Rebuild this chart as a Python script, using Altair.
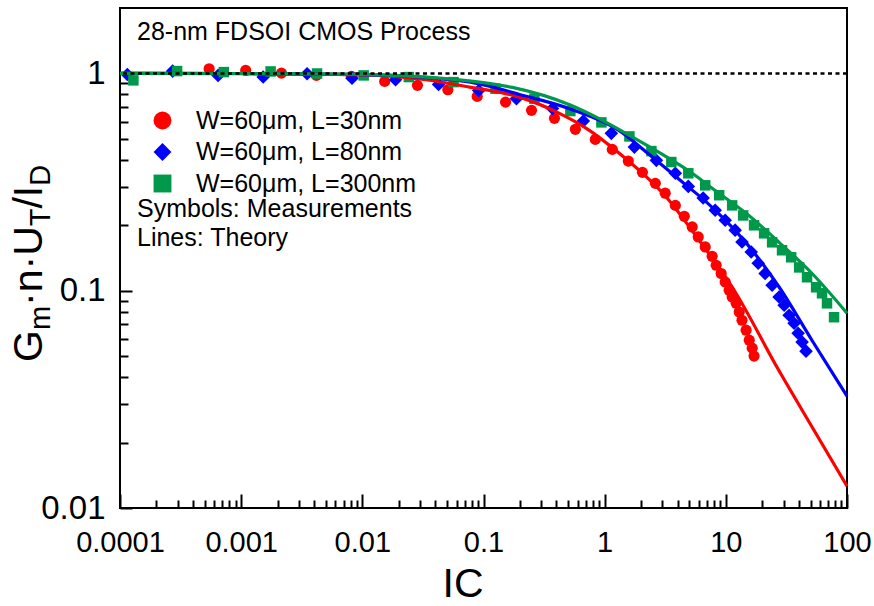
import altair as alt
import pandas as pd

FONT = "Liberation Sans, Arial, Helvetica, sans-serif"

SERIES = ["W=60μm, L=30nm", "W=60μm, L=80nm", "W=60μm, L=300nm"]
COLORS = ["#FF0000", "#0000FF", "#00984A"]
SHAPES = ["circle", "diamond", "square"]
SIZES = [125, 185, 110]

# ---------------- measurements (symbols) ----------------
meas_ic_30 = [5.44e-4, 1.09e-3, 2.15e-3, 4.18e-3, 8.13e-3, 0.0153, 0.0285, 0.0508, 0.0887,
              0.152, 0.249, 0.385, 0.573, 0.837, 1.156, 1.567, 2.05, 2.62, 3.16, 3.83, 4.54,
              5.28, 5.92, 6.76, 7.71, 8.32, 9.16, 9.88, 10.66, 11.28, 12.17, 12.9, 13.6, 14.7,
              15.6, 16.5, 17.1]
meas_g_30 = [1.051, 1.032, 1.003, 0.979, 0.969, 0.919, 0.881, 0.841, 0.784,
             0.738, 0.676, 0.621, 0.553, 0.497, 0.447, 0.395, 0.3505, 0.312, 0.281, 0.247, 0.220,
             0.1965, 0.1768, 0.159, 0.144, 0.131, 0.120, 0.1097, 0.1005, 0.0936, 0.0875, 0.0798,
             0.0731, 0.0658, 0.0592, 0.0544, 0.050]

meas_ic_80 = [1.15e-4, 2.72e-4, 6.45e-4, 1.52e-3, 3.50e-3, 8.22e-3, 0.0188, 0.0426, 0.0914,
              0.187, 0.371, 0.667, 1.135, 1.76, 2.67, 3.83, 4.90, 6.50, 8.17, 9.88, 11.94,
              13.6, 16.2, 18.5, 21.1, 24.1, 27.5, 30.3, 33.3, 36.6, 39.5, 42.6, 45.9]
meas_g_80 = [0.989, 1.025, 0.979, 0.962, 0.997, 0.951, 0.935, 0.890, 0.835,
             0.765, 0.690, 0.604, 0.530, 0.458, 0.398, 0.347, 0.302, 0.267, 0.2344, 0.211, 0.190,
             0.1676, 0.1508, 0.1338, 0.120, 0.106, 0.0936, 0.0858, 0.0771, 0.0708, 0.0637, 0.058,
             0.0527]

meas_ic_300 = [1.29e-4, 2.96e-4, 7.19e-4, 1.75e-3, 4.23e-3, 0.01026, 0.0242, 0.0566, 0.1256,
               0.263, 0.521, 0.940, 1.60, 2.43, 3.55, 4.90, 6.76, 8.81, 11.28, 13.9, 17.1,
               20.7, 24.1, 29.1, 34.6, 40.3, 46.8, 55.6, 62.2, 68.4, 78.2]
meas_g_300 = [0.929, 1.025, 1.014, 1.021, 0.999, 0.979, 0.962, 0.912, 0.850,
              0.765, 0.671, 0.595, 0.513, 0.439, 0.391, 0.347, 0.3055, 0.275, 0.247, 0.222, 0.200,
              0.1837, 0.167, 0.1535, 0.1425, 0.128, 0.1153, 0.1037, 0.0973, 0.0875, 0.0755]

# ---------------- theory (lines) ----------------
th_ic_30 = [1e-4, 1e-3, 0.01, 0.0336, 0.0768, 0.198, 0.423, 0.706, 1.32, 3.22, 6.03, 11.28,
            27.5, 51.5, 100]
th_g_30 = [1.0, 0.998, 0.985, 0.935, 0.865, 0.778, 0.655, 0.559, 0.429, 0.270, 0.1706, 0.104,
           0.0428, 0.0236, 0.0126]

th_ic_80 = [1e-4, 1e-3, 0.01, 0.0336, 0.0927, 0.198, 0.512, 1.32, 2.20, 4.13, 7.71, 14.7,
            27.5, 51.5, 100]
th_g_80 = [1.0, 0.999, 0.988, 0.958, 0.895, 0.800, 0.688, 0.545, 0.435, 0.325, 0.242, 0.166,
           0.104, 0.059, 0.0327]

th_ic_300 = [1e-4, 1e-3, 0.01, 0.0336, 0.0927, 0.173, 0.52, 0.957, 1.60, 2.47, 3.61, 5.28,
             7.71, 14.7, 27.5, 51.5, 100]
th_g_300 = [1.0, 0.999, 0.99, 0.962, 0.912, 0.862, 0.715, 0.608, 0.519, 0.452, 0.398, 0.347,
            0.296, 0.227, 0.167, 0.120, 0.0788]

# ---------------- axes ----------------
X_DOMAIN = [1e-4, 100]
Y_DOMAIN = [0.01, 2]
X_MAJOR = [0.0001, 0.001, 0.01, 0.1, 1, 10, 100]
X_MINOR = [m * d for d in X_MAJOR[:-1] for m in range(2, 10)]
Y_MAJOR = [0.01, 0.1, 1]
Y_MINOR = [m * d for d in [0.01, 0.1] for m in range(2, 10)]
REF_LEVEL = [1.0]

W, H = 727, 500
LEFT, TOP = 120, 8
PADDING = {"left": LEFT, "top": TOP, "right": 874 - LEFT - W, "bottom": 606 - TOP - H}


def frame(ic, g, name):
    return pd.DataFrame({"IC": ic, "g": g, "series": name})


meas_frames = [frame(meas_ic_30, meas_g_30, SERIES[0]),
               frame(meas_ic_80, meas_g_80, SERIES[1]),
               frame(meas_ic_300, meas_g_300, SERIES[2])]
theory = pd.concat([frame(th_ic_30, th_g_30, SERIES[0]),
                    frame(th_ic_80, th_g_80, SERIES[1]),
                    frame(th_ic_300, th_g_300, SERIES[2])], ignore_index=True)

xscale = alt.Scale(type="log", domain=X_DOMAIN, nice=False)
yscale = alt.Scale(type="log", domain=Y_DOMAIN, nice=False)

tick_common = dict(domain=False, grid=False, tickColor="black", tickWidth=2, title=None)

x_major_axis = alt.Axis(orient="bottom", values=X_MAJOR, offset=-14, tickSize=14,
                        labels=True, format="~g", labelFont=FONT, labelFontSize=29,
                        labelColor="black", labelPadding=20, labelFlush=False,
                        labelOverlap=False, **tick_common)
x_minor_axis = alt.Axis(orient="bottom", values=X_MINOR, offset=-8, tickSize=8,
                        labels=False, **tick_common)
y_major_axis = alt.Axis(orient="left", values=Y_MAJOR, offset=-12, tickSize=12,
                        labels=True, format="~g", labelFont=FONT, labelFontSize=33,
                        labelColor="black", labelPadding=15, labelFlush=False,
                        labelOverlap=False, **tick_common)
y_minor_axis = alt.Axis(orient="left", values=Y_MINOR, offset=-8, tickSize=8,
                        labels=False, **tick_common)

legend = alt.Legend(title=None, orient="none", legendX=30, legendY=100, padding=0,
                    labelFont=FONT, labelFontSize=25, labelColor="black", labelOffset=21,
                    labelLimit=500, symbolSize=320, symbolStrokeWidth=0, rowPadding=5.5)

color_enc = alt.Color("series:N", scale=alt.Scale(domain=SERIES, range=COLORS), legend=legend)
shape_enc = alt.Shape("series:N", scale=alt.Scale(domain=SERIES, range=SHAPES), legend=legend)

point_layers = []
for i, df in enumerate(meas_frames):
    point_layers.append(
        alt.Chart(df).mark_point(filled=True, opacity=1, strokeWidth=0, size=SIZES[i]).encode(
            x=alt.X("IC:Q", scale=xscale, axis=x_minor_axis if i == 0 else None),
            y=alt.Y("g:Q", scale=yscale, axis=y_minor_axis if i == 0 else None),
            color=color_enc,
            shape=shape_enc,
        )
    )

lines = alt.Chart(theory).mark_line(strokeWidth=3.2, interpolate="monotone").encode(
    x=alt.X("IC:Q", scale=xscale, axis=x_major_axis),
    y=alt.Y("g:Q", scale=yscale, axis=y_major_axis),
    color=alt.Color("series:N", scale=alt.Scale(domain=SERIES, range=COLORS), legend=None),
    detail="series:N",
)

ref = alt.Chart(pd.DataFrame({"g": REF_LEVEL})).mark_rule(
    color="black", strokeWidth=2.5, strokeDash=[4, 3.5]
).encode(y=alt.Y("g:Q", scale=yscale, axis=None))


def text_mark(s, x, y, size, angle=0, align="left"):
    return alt.Chart(pd.DataFrame({"t": [s]})).mark_text(
        text=s, font=FONT, fontSize=size, color="black", align=align,
        baseline="alphabetic", angle=angle
    ).encode(x=alt.value(x - LEFT), y=alt.value(y - TOP))


texts = [
    text_mark("28-nm FDSOI CMOS Process", 137, 40, 25),
    text_mark("Symbols: Measurements", 137, 217, 25),
    text_mark("Lines: Theory", 137, 246, 25),
    text_mark("IC", 463, 597, 41, align="center"),
]

# y-axis title with subscripts: G_m · n · U_T / I_D
MAIN, SUB = 41, 29
ADV = {"G": 0.778, "m": 0.833, "·": 0.333, "n": 0.556, "U": 0.722, "T": 0.611,
       "/": 0.278, "I": 0.278, "D": 0.722}
pieces = [("G", False), ("m", True), ("·n·U", False), ("T", True), ("/I", False), ("D", True)]
ypos = 362
for s, sub in pieces:
    fs = SUB if sub else MAIN
    bx = 50 if sub else 42
    texts.append(text_mark(s, bx, ypos, fs, angle=270))
    ypos -= sum(ADV[c] for c in s) * fs

chart = alt.layer(*point_layers, lines, ref, *texts).resolve_axis(
    x="independent", y="independent"
).properties(
    width=W, height=H, padding=PADDING, autosize=alt.AutoSizeParams(type="none"),
    background="white"
).configure_view(stroke="black", strokeWidth=2)

chart.save("out.html", embed_options={"renderer": "svg", "actions": False})
